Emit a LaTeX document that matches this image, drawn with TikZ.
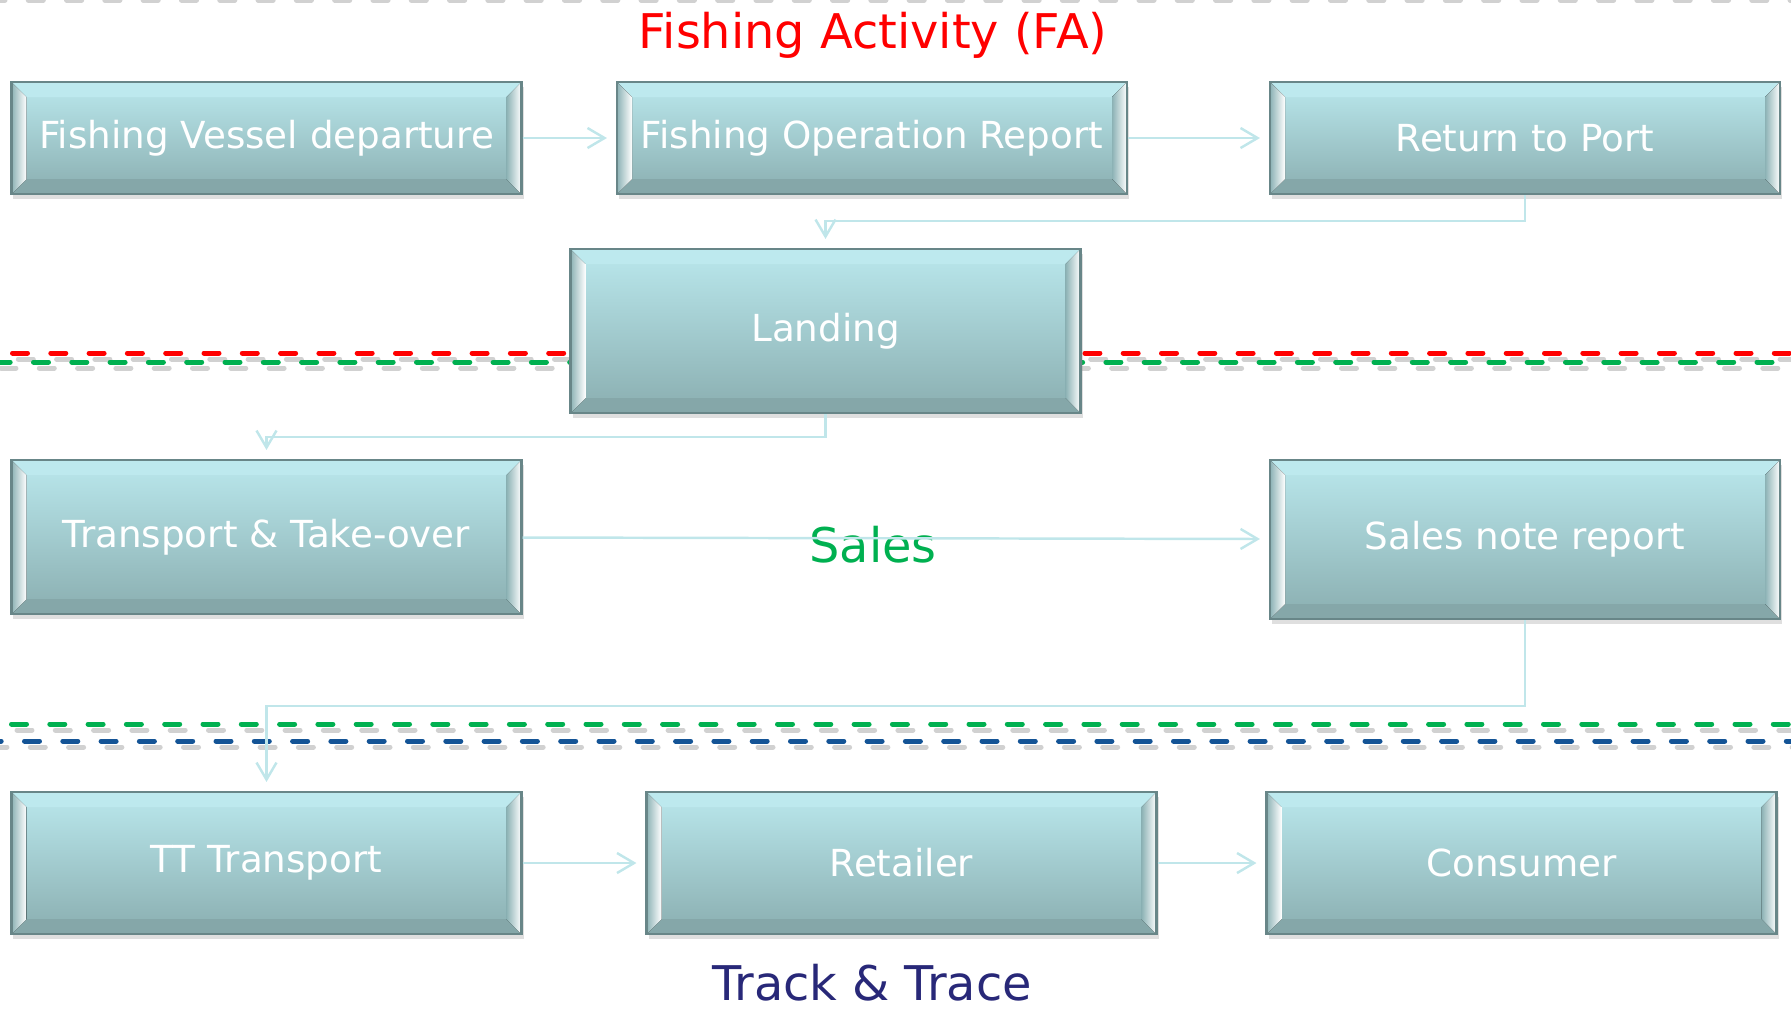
\documentclass[tikz,border=0pt]{standalone}
\usepackage{fontspec}
\setmainfont{DejaVu Sans}
\usetikzlibrary{arrows.meta}
\usetikzlibrary{shadows}
\definecolor{boxtop}{RGB}{186,232,237}
\definecolor{boxbot}{RGB}{138,174,176}
\definecolor{boxedge}{RGB}{104,134,136}
\definecolor{bevdark}{RGB}{140,178,181}
\definecolor{flowcol}{RGB}{192,230,234}
\definecolor{fared}{RGB}{255,0,0}
\definecolor{salesgreen}{RGB}{0,176,80}
\definecolor{ttblue}{RGB}{20,84,150}
\definecolor{ttnavy}{RGB}{40,40,120}
\newcommand{\stagebevel}{%
      \path (path picture bounding box.north west) coordinate (bnw)
            (path picture bounding box.north east) coordinate (bne)
            (path picture bounding box.south west) coordinate (bsw)
            (path picture bounding box.south east) coordinate (bse) ;
      \fill[boxtop!95!white] (bnw) -- (bne) -- ([shift={(-0.15,-0.15)}]bne) -- ([shift={(0.15,-0.15)}]bnw) -- cycle ;
      \fill[boxbot!96!black] (bsw) -- (bse) -- ([shift={(-0.15,0.15)}]bse) -- ([shift={(0.15,0.15)}]bsw) -- cycle ;
      \fill[left color=bevdark, right color=white] (bnw) -- ([shift={(0.15,-0.15)}]bnw) -- ([shift={(0.15,0.15)}]bsw) -- (bsw) -- cycle ;
      \fill[left color=bevdark, right color=white] (bne) -- ([shift={(-0.15,-0.15)}]bne) -- ([shift={(-0.15,0.15)}]bse) -- (bse) -- cycle ;
}
\tikzset{
      stage/.style={draw=boxedge, line width=0.6pt, top color=boxtop, bottom color=boxbot,
            minimum width=5.1cm, minimum height=1.12cm, inner sep=0pt, text=white,
            font=\fontsize{10.6}{12}\selectfont,
            drop shadow={shadow xshift=0.02cm, shadow yshift=-0.05cm, opacity=0.25},
            path picture={\stagebevel}},
      flow/.style={draw=flowcol, line width=0.7pt, -{Straight Barb[length=0.17cm,width=0.2cm]},
            shorten >=0.09cm},
      zone/.style={line width=0.05cm, line cap=round, dash pattern=on 0.15cm off 0.233cm},
      zoneshadow/.style={zone, draw=black!30, opacity=0.6},
      caption/.style={font=\fontsize{13.6}{16}\selectfont, anchor=base},
}

\begin{document}
\begin{tikzpicture}

        \useasboundingbox (0,0) rectangle (17.91,-10.09) ;
        \clip (0,0) rectangle (17.91,-10.09) ;

        % zone borders
        \draw[zoneshadow] (-0.1,0.0) -- (18.2,0.0) ;
        \draw[zoneshadow] (-0.20,-3.59) -- (18.2,-3.59) ;
        \draw[zoneshadow] (0.01,-3.68) -- (18.2,-3.68) ;
        \draw[zone, draw=fared] (-0.258,-3.53) -- (18.2,-3.53) ;
        \draw[zone, draw=salesgreen] (-0.048,-3.62) -- (18.2,-3.62) ;

        \draw[zoneshadow] (0.17,-7.30) -- (18.2,-7.30) ;
        \draw[zoneshadow] (-0.08,-7.47) -- (18.2,-7.47) ;
        \draw[zone, draw=salesgreen] (0.115,-7.24) -- (18.2,-7.24) ;
        \draw[zone, draw=ttblue] (-0.138,-7.41) -- (18.2,-7.41) ;

        \node[stage] (departure) at (2.665,-1.38) {Fishing Vessel departure} ;
        \node[stage] (operation) at (8.72,-1.38) {Fishing Operation Report} ;
        \node[stage] (return) at (15.25,-1.38) {Return to Port} ;
        \node[stage, minimum height=1.64cm] (landing) at (8.255,-3.31) {Landing} ;
        \node[stage, minimum height=1.54cm] (transport) at (2.665,-5.37) {Transport \& Take-over} ;
        \node[stage, minimum height=1.59cm] (salesnote) at (15.25,-5.395) {Sales note report} ;
        \node[stage, minimum height=1.42cm] (ttransport) at (2.665,-8.63) {TT Transport} ;
        \node[stage, minimum height=1.42cm] (retailer) at (9.015,-8.63) {Retailer} ;
        \node[stage, minimum height=1.42cm] (consumer) at (15.215,-8.63) {Consumer} ;

        \node[caption, text=fared] (fa) at (8.73,-0.48) {Fishing Activity (FA)} ;
        \node[caption, text=salesgreen] (sales) at (8.73,-5.62) {Sales} ;
        \node[caption, text=ttnavy] (track) at (8.72,-10.0) {Track \& Trace} ;

        \draw[flow] (departure) -- (operation) ;
        \draw[flow] (operation) -- (return) ;
        \draw[flow] (return.south) -- ++(0,-0.26) -| (landing.north) ;
        \draw[flow] (landing.south) -- ++(0,-0.23) -| (transport.north) ;
        \draw[flow] (transport) -- (salesnote) ;
        \draw[flow] (salesnote.south) -- ++(0,-0.86) -| (ttransport.north) ;
        \draw[flow] (ttransport) -- (retailer) ;
        \draw[flow] (retailer) -- (consumer) ;

\end{tikzpicture}
\end{document}
